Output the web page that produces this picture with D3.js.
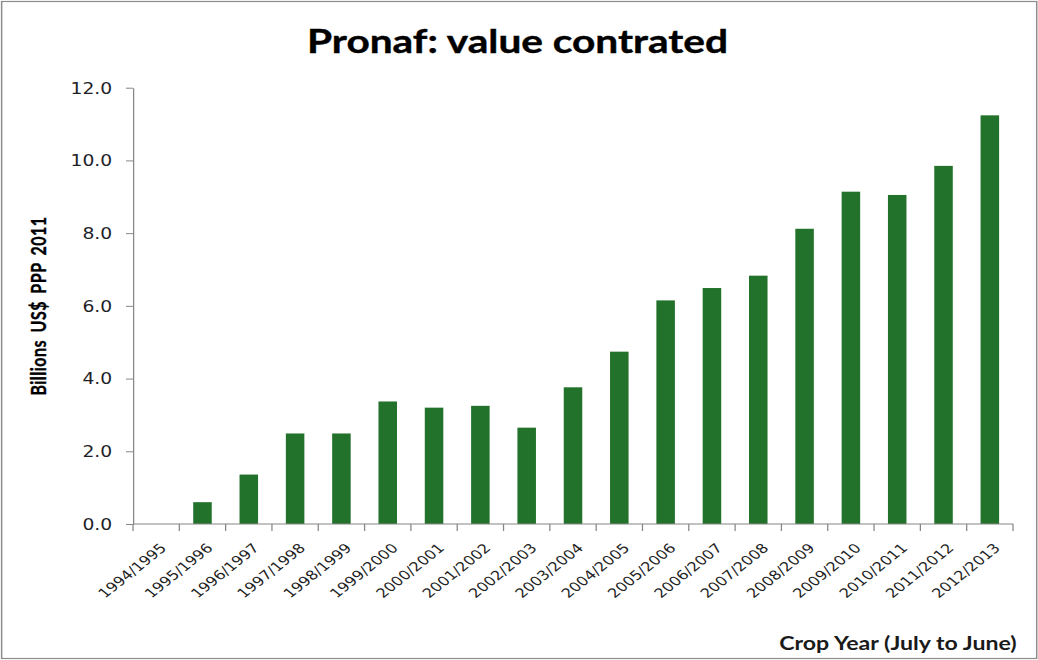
<!DOCTYPE html>
<html>
<head>
<meta charset="utf-8">
<script src="https://cdn.jsdelivr.net/npm/d3@7"></script>
<style>
  html, body { margin: 0; padding: 0; background: #fff; }
  svg { display: block; }
</style>
</head>
<body>
<svg class="svgChart"></svg>
<script>
// chart values
const cropYears = ['1994/1995', '1995/1996', '1996/1997', '1997/1998', '1998/1999',
  '1999/2000', '2000/2001', '2001/2002', '2002/2003', '2003/2004', '2004/2005',
  '2005/2006', '2006/2007', '2007/2008', '2008/2009', '2009/2010', '2010/2011',
  '2011/2012', '2012/2013'];
const values = [0, 0.60, 1.36, 2.49, 2.49, 3.37, 3.20, 3.25, 2.65, 3.76, 4.74,
  6.15, 6.49, 6.83, 8.12, 9.14, 9.05, 9.85, 11.24];
const yTicks = [0, 2, 4, 6, 8, 10, 12];

const chartTitle = 'Pronaf: value contrated';
const yTitle = 'Billions US$ PPP 2011';
const xTitle = 'Crop Year (July to June)';

// the original picture is stretched sideways, so draw in a narrower box and widen it
const stretch = 1.25;
const fullWidth = 1038;
const fullHeight = 660;
const innerWidth = fullWidth / stretch;

const margin = { top: 87.7, left: 133 / stretch, right: innerWidth - 1013 / stretch, bottom: fullHeight - 524 };
const width = innerWidth - margin.left - margin.right;
const height = fullHeight - margin.top - margin.bottom;

const barColor = '#23722b';
const axisColor = '#868686';

const svg = d3.select('.svgChart')
  .attr('width', fullWidth)
  .attr('height', fullHeight);

const root = svg.append('g')
  .attr('transform', `scale(${stretch},1)`);

// outer frame
root.append('rect')
  .attr('x', 1.3)
  .attr('y', 1.5)
  .attr('width', 1036.7 / stretch - 1.3)
  .attr('height', 657)
  .attr('fill', 'none')
  .attr('stroke', '#8c8c8c')
  .attr('stroke-width', 1.2);

// title
root.append('text')
  .attr('x', 517.5 / stretch)
  .attr('y', 53)
  .attr('text-anchor', 'middle')
  .attr('font-family', 'Lato, sans-serif')
  .attr('font-weight', 'bold')
  .attr('font-size', 32.5)
  .attr('fill', '#000')
  .attr('stroke', '#000')
  .attr('stroke-width', 0.4)
  .text(chartTitle);

const g = root.append('g')
  .attr('transform', `translate(${margin.left},${margin.top})`);

const xScale = d3.scaleBand()
  .domain(cropYears)
  .range([0, width])
  .paddingInner(0.6)
  .paddingOuter(0.3);

const yScale = d3.scaleLinear()
  .domain([0, 12])
  .range([height, 0]);

// bars
g.append('g')
  .selectAll('rect')
  .data(values)
  .enter()
  .append('rect')
    .attr('x', (d, i) => xScale(cropYears[i]))
    .attr('y', d => yScale(d))
    .attr('width', xScale.bandwidth())
    .attr('height', d => yScale(0) - yScale(d))
    .attr('fill', barColor);

// y axis
const yAxis = g.append('g')
  .call(d3.axisLeft(yScale)
    .tickValues(yTicks)
    .tickFormat(d3.format('.1f'))
    .tickSize(5.6)
    .tickSizeOuter(0)
    .tickPadding(11));

yAxis.select('.domain').attr('stroke', axisColor);
yAxis.selectAll('.tick line').attr('stroke', axisColor);
yAxis.selectAll('.tick text')
  .attr('font-family', '"DejaVu Sans", Verdana, sans-serif')
  .attr('font-size', 15)
  .attr('fill', '#1e1e28')
  .attr('dy', '0.36em');

// x axis: line, ticks between the bands, slanted labels
const step = xScale.step();
const boundaries = d3.range(cropYears.length + 1).map(i => i * step);

const xAxis = g.append('g')
  .attr('class', 'xAxis')
  .attr('transform', `translate(0,${height})`);

xAxis.append('line')
  .attr('x1', 0)
  .attr('x2', width)
  .attr('stroke', axisColor);

xAxis.selectAll('.tickMark')
  .data(boundaries)
  .enter()
  .append('line')
    .attr('class', 'tickMark')
    .attr('x1', d => d)
    .attr('x2', d => d)
    .attr('y1', 0)
    .attr('y2', 7)
    .attr('stroke', axisColor);

xAxis.selectAll('.label')
  .data(cropYears)
  .enter()
  .append('text')
    .attr('class', 'label')
    .attr('transform', d => `translate(${xScale(d) + xScale.bandwidth() / 2 + 9},25) rotate(-45)`)
    .attr('text-anchor', 'end')
    .attr('font-family', '"DejaVu Sans", Verdana, sans-serif')
    .attr('font-size', 13)
    .attr('fill', '#1e1e1e')
    .text(d => d);

// axis titles
root.append('text')
  .attr('transform', `translate(${46 / stretch},306) rotate(-90)`)
  .attr('text-anchor', 'middle')
  .attr('font-family', 'Lato, sans-serif')
  .attr('font-weight', 'bold')
  .attr('font-size', 16)
  .attr('letter-spacing', 0.5)
  .attr('word-spacing', 3)
  .attr('fill', '#000')
  .attr('stroke', '#000')
  .attr('stroke-width', 0.3)
  .text(yTitle);

root.append('text')
  .attr('x', 1016.7 / stretch)
  .attr('y', 650)
  .attr('text-anchor', 'end')
  .attr('font-family', 'Lato, sans-serif')
  .attr('font-weight', 'bold')
  .attr('font-size', 18.5)
  .attr('fill', '#1a1a1a')
  .text(xTitle);
</script>
</body>
</html>
